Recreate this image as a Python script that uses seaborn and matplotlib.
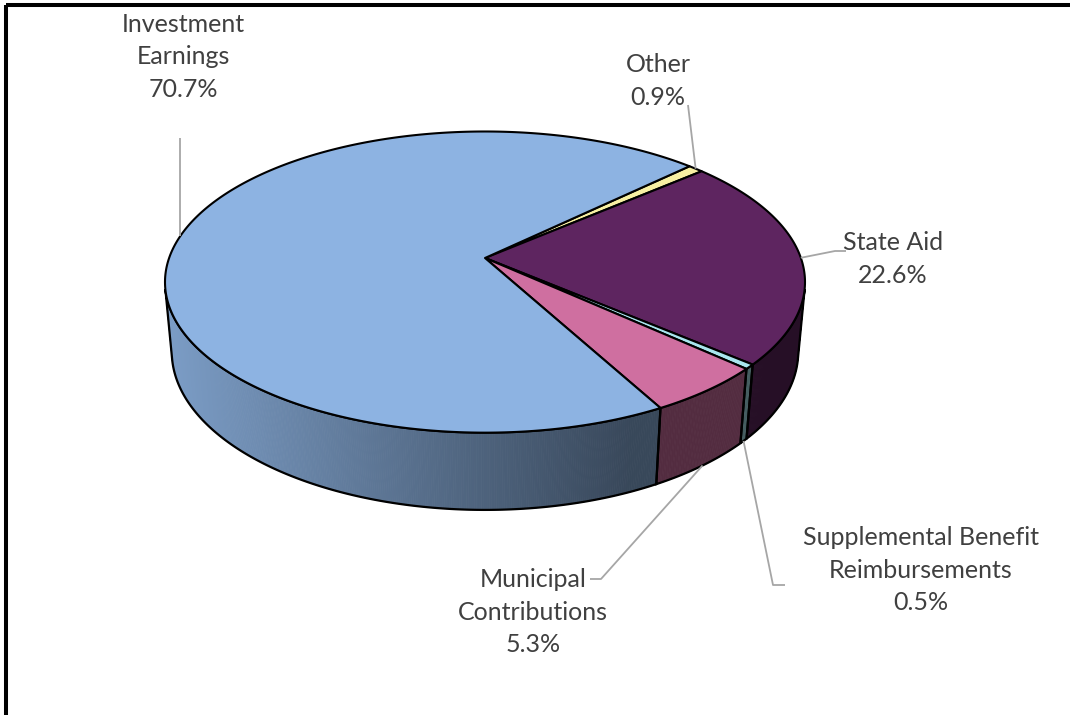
import numpy as np
import matplotlib
matplotlib.use("Agg")
import matplotlib.pyplot as plt
from matplotlib.patches import Polygon, Rectangle
from matplotlib.collections import PolyCollection
import seaborn as sns

# ---- data -------------------------------------------------------------
categories = ["Other", "State Aid", "Supplemental Benefit\nReimbursements",
              "Municipal\nContributions", "Investment\nEarnings"]
shares = [0.9, 22.6, 0.5, 5.3, 70.7]          # percent, clockwise order
top_colors = ["#F7F0A3", "#5E2560", "#A9E6EE", "#CF6FA0", "#8DB3E2"]
first_slice_angle = 46                       # degrees clockwise from 12 o'clock

# label block centres and leader elbows (pixel layout)
label_pos = [(658, 81), (893, 259), (921, 570), (533, 612), (183, 57)]
leader_elbows = [
    [(688, 105)],
    [(846, 251), (835, 251)],
    [(785, 585), (773, 585)],
    [(590, 579), (601, 579)],
    [None],
]

# ---- style ------------------------------------------------------------
sns.set_theme(style="white")
plt.rcParams["font.family"] = ["Lato", "DejaVu Sans"]
TEXT = "#404040"
LEADER = "#A6A6A6"

W, H = 1070, 715
fig = plt.figure(figsize=(W / 100, H / 100), dpi=100)
ax = fig.add_axes([0, 0, 1, 1])
ax.set_xlim(0, W)
ax.set_ylim(H, 0)
ax.axis("off")

# ---- perspective camera for the 3-D disc -------------------------------
cx, cy = 485.0, 258.0
s_el = 0.4645
c_el = np.sqrt(1 - s_el ** 2)
D, F, thick = 5.54, 1750.0, 0.251


def proj(t_deg, z=0.0, r=1.0):
    t = np.radians(np.asarray(t_deg, dtype=float))
    x, y = r * np.cos(t), r * np.sin(t)
    dy = y + D * c_el
    dz = z - D * s_el
    depth = dy * c_el - dz * s_el
    up = dy * s_el + dz * c_el
    return cx + F * x / depth, cy - F * up / depth


def shade(hex_color, px):
    base = np.array(matplotlib.colors.to_rgb(hex_color))
    f = np.clip(0.87 - 0.00102 * (px - 170), 0.40, 0.9)
    return tuple(base * f)


# slice angular ranges in math convention (counter-clockwise from +x)
start = 90 - first_slice_angle
bounds = []
a = start
for sh in shares:
    b = a - sh * 3.6
    bounds.append((a, b))
    a = b

# visible front wall of the cylinder
lim = np.degrees(np.arcsin(1 / (D * c_el)))
vis_lo, vis_hi = -180 + lim, -lim

# side walls first
for (a0, a1), col in zip(bounds, top_colors):
    lo, hi = min(a0, a1), max(a0, a1)
    for k in (-1, 0, 1):
        vlo, vhi = vis_lo + 360 * k, vis_hi + 360 * k
        l, h = max(lo, vlo), min(hi, vhi)
        if h <= l:
            continue
        n = max(4, int((h - l) * 3))
        ts = np.linspace(l, h, n)
        xt, yt = proj(ts, 0.0)
        xb, yb = proj(ts, -thick)
        quads, cols = [], []
        for i in range(n - 1):
            quads.append([(xt[i], yt[i]), (xt[i + 1], yt[i + 1]),
                          (xb[i + 1], yb[i + 1]), (xb[i], yb[i])])
            cols.append(shade(col, 0.5 * (xt[i] + xt[i + 1])))
        ax.add_collection(PolyCollection(quads, facecolors=cols,
                                         edgecolors=cols, linewidths=0.6,
                                         zorder=2))
        outline = np.vstack([np.column_stack([xt, yt]),
                             np.column_stack([xb, yb])[::-1]])
        ax.add_patch(Polygon(outline, closed=True, fill=False,
                             edgecolor="black", lw=1.6, zorder=3))

# top faces
for (a0, a1), col in zip(bounds, top_colors):
    n = max(3, int(abs(a0 - a1) * 2))
    ts = np.linspace(a0, a1, n)
    xr, yr = proj(ts, 0.0)
    pts = np.vstack([[cx, cy], np.column_stack([xr, yr])])
    ax.add_patch(Polygon(pts, closed=True, facecolor=col,
                         edgecolor="black", lw=1.5, zorder=4,
                         joinstyle="round"))

# labels and leader lines
for name, sh, (a0, a1), (lx, ly), elbow in zip(categories, shares, bounds,
                                               label_pos, leader_elbows):
    mid = 0.5 * (a0 + a1)
    front = np.sin(np.radians(mid)) < -0.5
    axp, ayp = proj(mid, -thick if front else 0.0)
    if elbow[0] is None:
        path = [(float(axp), 138.0), (float(axp), float(ayp))]
    else:
        path = elbow + [(float(axp), float(ayp))]
    px, py = zip(*path)
    ax.plot(px, py, color=LEADER, lw=1.3, zorder=5,
            solid_capstyle="butt")
    ax.text(lx, ly, f"{name}\n{sh:.1f}%", ha="center", va="center",
            color=TEXT, fontsize=18, linespacing=1.5, zorder=6)

# outer frame
ax.add_patch(Rectangle((6, 5), 1100, 800, fill=False, edgecolor="black",
                       lw=2.9, zorder=7))

fig.savefig("out.png", dpi=100)
